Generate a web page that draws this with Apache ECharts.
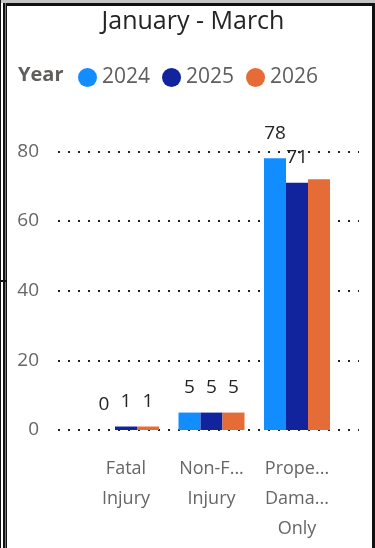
<!DOCTYPE html>
<html>
<head>
<meta charset="utf-8">
<script src="https://cdn.jsdelivr.net/npm/echarts@6/dist/echarts.min.js"></script>
<style>
  html, body { margin: 0; padding: 0; background: #fff; }
  #chart { position: absolute; left: 0; top: 0; width: 375px; height: 548px; }
  .edge { position: absolute; pointer-events: none; }
</style>
</head>
<body>
<div id="chart"></div>
<!-- panel frame -->
<div class="edge" style="left:0;top:0;width:375px;height:3px;background:#c4c4c4"></div>
<div class="edge" style="left:3px;top:3px;width:372px;height:3px;background:#111"></div>
<div class="edge" style="left:0;top:0;width:1px;height:548px;background:#111"></div>
<div class="edge" style="left:3px;top:3px;width:4px;height:545px;background:#111"></div>
<div class="edge" style="left:5px;top:3px;width:1px;height:545px;background:#777"></div>
<div class="edge" style="left:0;top:280px;width:7px;height:2px;background:#111"></div>
<div class="edge" style="left:372px;top:3px;width:3px;height:545px;background:#111"></div>
<script>
// Collision counts by severity, January - March
const categories = ['Fatal\nInjury', 'Non-F...\nInjury', 'Prope...\nDama...\nOnly'];
const years = ['2024', '2025', '2026'];
const values2024 = [0, 5, 78];
const values2025 = [1, 5, 71];
const values2026 = [1, 5, 72];
const yTicks = [0, 20, 40, 60, 80];
// labels that the report hides because they crowd their neighbours
const hiddenLabels2026 = [false, false, true];

const colors = ['#118DFF', '#12239E', '#E66C37'];
const FONT = '"Open Sans", "Noto Sans", sans-serif';

const yMin = yTicks[0];
const yMax = yTicks[yTicks.length - 1];
const yStep = yTicks[1] - yTicks[0];

const plotTop = 151.3;
const plotBottom = 118;

function barSeries(name, values, color, hidden) {
  return {
    name: name,
    type: 'bar',
    xAxisIndex: 1,
    yAxisIndex: 1,
    barWidth: 22,
    barGap: '0%',
    itemStyle: { color: color },
    label: {
      show: true,
      position: 'top',
      distance: 16,
      fontFamily: FONT,
      fontSize: 19,
      lineHeight: 18,
      color: '#252423'
    },
    data: values.map(function (v, i) {
      return (hidden && hidden[i]) ? { value: v, label: { show: false } } : v;
    })
  };
}

const chart = echarts.init(document.getElementById('chart'), null, { renderer: 'canvas' });
chart.setOption({
  animation: false,
  color: colors,
  title: {
    text: 'January - March',
    left: 188,
    top: 4,
    textAlign: 'center',
    textStyle: { fontFamily: FONT, fontSize: 25, fontWeight: 'normal', color: '#252423' }
  },
  legend: {
    data: years,
    left: 73,
    top: 62,
    icon: 'circle',
    itemWidth: 19,
    itemHeight: 19,
    itemGap: 12,
    textStyle: { fontFamily: FONT, fontSize: 21, color: '#605E5C', padding: [0, 0, 0, 0] }
  },
  graphic: [{
    type: 'text',
    left: 18,
    top: 65,
    style: { text: 'Year', fontFamily: FONT, fontSize: 20, fontWeight: 'bold', fill: '#605E5C' }
  }],
  grid: [
    { left: 58, right: 16, top: plotTop, bottom: plotBottom },
    { left: 83.25, right: 35.25, top: plotTop, bottom: plotBottom }
  ],
  xAxis: [
    { type: 'value', gridIndex: 0, min: 0, max: 1, show: false },
    {
      type: 'category',
      gridIndex: 1,
      data: categories,
      axisLine: { show: false },
      axisTick: { show: false },
      axisLabel: {
        interval: 0,
        margin: 24,
        fontFamily: FONT,
        fontSize: 18,
        lineHeight: 30,
        color: '#666'
      }
    }
  ],
  yAxis: [
    {
      type: 'value',
      gridIndex: 0,
      min: yMin,
      max: yMax,
      interval: yStep,
      axisLine: { show: false },
      axisTick: { show: false },
      axisLabel: { margin: 19, fontFamily: FONT, fontSize: 19, color: '#666' },
      splitLine: { lineStyle: { color: '#222', width: 2, type: [2, 8] } }
    },
    {
      type: 'value',
      gridIndex: 1,
      min: yMin,
      max: yMax,
      interval: yStep,
      show: false,
      splitLine: { show: false }
    }
  ],
  series: [
    barSeries(years[0], values2024, colors[0]),
    barSeries(years[1], values2025, colors[1]),
    barSeries(years[2], values2026, colors[2], hiddenLabels2026)
  ]
});
</script>
</body>
</html>
